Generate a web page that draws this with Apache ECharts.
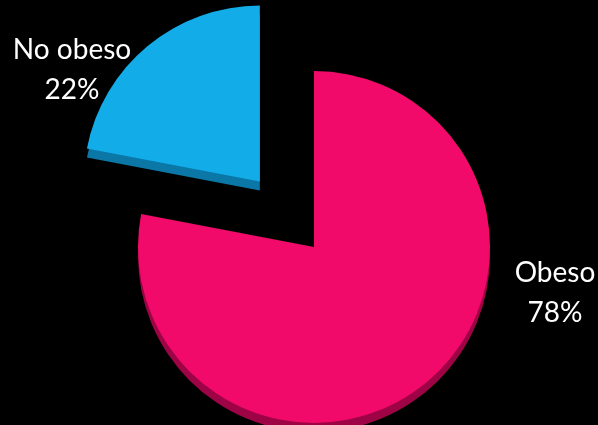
<!DOCTYPE html>
<html>
<head>
<meta charset="utf-8">
<script src="https://cdn.jsdelivr.net/npm/echarts@6/dist/echarts.min.js"></script>
<style>
  html, body { margin: 0; padding: 0; background: #000; }
  #chart { width: 598px; height: 425px; }
</style>
</head>
<body>
<div id="chart"></div>
<script>
// Share of people by weight status
const categories = ['Obeso', 'No obeso'];
const values = [78, 22];
const exploded = [false, true];

const topColors = ['#F20A6B', '#12ACE9'];
const sideColors = ['#9E0445', '#0A77A6'];

const chart = echarts.init(document.getElementById('chart'));

function pieData(colors, pulled) {
  return categories.map((name, i) => ({
    name: name,
    value: values[i],
    selected: pulled ? exploded[i] : false,
    itemStyle: { color: colors[i] }
  }));
}

const common = {
  type: 'pie',
  radius: 176,
  startAngle: 90,
  clockwise: true,
  selectedMode: 'multiple',
  selectedOffset: 85,
  avoidLabelOverlap: false,
  animation: false,
  emphasis: { disabled: true },
  labelLine: { show: false }
};

chart.setOption({
  backgroundColor: '#000',
  series: [
    // darker copy below gives the slab its thickness
    Object.assign({}, common, {
      center: [314, 256],
      silent: true,
      z: 1,
      label: { show: false },
      data: pieData(sideColors, true)
    }),
    // top face of the pie
    Object.assign({}, common, {
      center: [314, 247],
      z: 2,
      label: { show: false },
      data: pieData(topColors, true)
    }),
    // unfilled layer that only carries the category labels
    Object.assign({}, common, {
      center: [314, 247],
      z: 3,
      silent: true,
      data: pieData(['rgba(0,0,0,0)', 'rgba(0,0,0,0)'], false),
      label: {
        show: true,
        position: 'outside',
        formatter: '{b}\n{d}%',
        color: '#fff',
        fontFamily: 'Lato, "Open Sans", sans-serif',
        fontSize: 28,
        lineHeight: 40,
        align: 'center'
      },
      labelLayout: function (p) {
        if (p.dataIndex === 0) {
          return { x: 555, y: 293, align: 'center', verticalAlign: 'middle' };
        }
        return { x: 72, y: 70, align: 'center', verticalAlign: 'middle' };
      }
    })
  ]
});
</script>
</body>
</html>
